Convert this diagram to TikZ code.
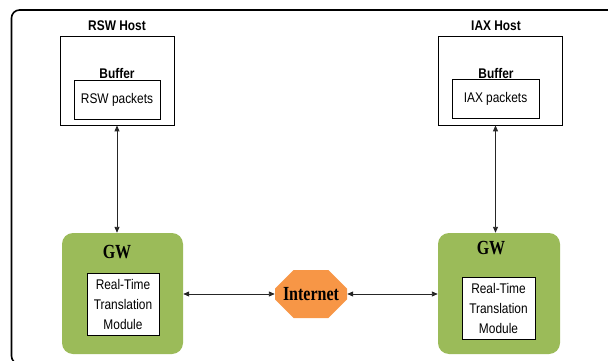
\documentclass[tikz,border=0pt]{standalone}
\usepackage{fontspec}
\setmainfont{Liberation Sans}
\newfontfamily\labfont[FakeStretch=0.85]{Liberation Sans}
\newfontfamily\gwfont[FakeStretch=0.8]{Liberation Serif}
\usetikzlibrary{arrows.meta,shapes.misc}
\definecolor{gwgreen}{HTML}{9BBB59}
\definecolor{netorange}{HTML}{F79646}
\begin{document}
\begin{tikzpicture}[x=1pt,y=-1pt,
  hostbox/.style={draw=black,line width=0.8pt,minimum width=#1,minimum height=89pt,inner sep=0pt},
  pktbox/.style={draw=black,line width=0.8pt,fill=white,minimum height=39pt,inner sep=0pt,
    font=\labfont\fontsize{14}{16}\selectfont},
  hosttitle/.style={font=\labfont\bfseries\fontsize{14}{16}\selectfont,inner sep=0pt},
  gwbox/.style={fill=gwgreen,rounded corners=11pt,minimum width=#1,minimum height=121pt,inner sep=0pt},
  gwtitle/.style={font=\gwfont\bfseries\fontsize{20}{22}\selectfont,inner sep=0pt},
  modbox/.style={draw=black,line width=0.8pt,fill=white,align=center,inner sep=0pt,
    font=\labfont\fontsize{14}{20}\selectfont},
  link/.style={draw=black!85,line width=0.9pt,{Triangle[length=6pt,width=5pt]}-{Triangle[length=6pt,width=5pt]}}]
\useasboundingbox (0,0) rectangle (608,361);
\clip (0,0) rectangle (608,361);
% outer frame, running past the right and bottom edges
\draw[line width=1.6pt,rounded corners=8pt] (640,10) -- (11.5,10) -- (11.5,364) -- (640,364);

% RSW host side
\node[hostbox=114pt] (rswhost) at (117,80.5) {};
\node[hosttitle] (rswtitle) at (117,26) {RSW Host};
\node[hosttitle] (rswbuf) at (117,73) {Buffer};
\node[pktbox,minimum width=86pt] (rswpk) at (117,99.5) {RSW packets};

% IAX host side
\node[hostbox=124pt] (iaxhost) at (500,80.5) {};
\node[hosttitle] (iaxtitle) at (496,26) {IAX Host};
\node[hosttitle] (iaxbuf) at (496,73) {Buffer};
\node[pktbox,minimum width=87pt] (iaxpk) at (495.5,99) {IAX packets};

% gateways
\node[gwbox=121pt] (gwL) at (122.5,293.5) {};
\node[gwtitle] (gwLt) at (117,252) {GW};
\node[modbox,minimum width=72pt,minimum height=62pt] (modL) at (123,304) {Real-Time\\Translation\\Module};

\node[gwbox=122pt] (gwR) at (499,293.5) {};
\node[gwtitle] (gwRt) at (491,248) {GW};
\node[modbox,minimum width=73pt,minimum height=62pt] (modR) at (498.5,308) {Real-Time\\Translation\\Module};

% internet cloud
\node[chamfered rectangle,chamfered rectangle xsep=10pt,chamfered rectangle ysep=12pt,
  fill=netorange,minimum width=72pt,minimum height=48pt,inner sep=0pt,
  font=\gwfont\bfseries\fontsize{20}{22}\selectfont] (net) at (311,294) {Internet};

% connectors
\draw[link] (rswhost.south) -- (rswhost.south |- gwL.north);
\draw[link] (iaxpk.south |- iaxhost.south) -- (iaxpk.south |- gwR.north);
\draw[link] (gwL.east |- net.west) -- (net.west);
\draw[link] (net.east) -- (net.east -| gwR.west);
\end{tikzpicture}
\end{document}
